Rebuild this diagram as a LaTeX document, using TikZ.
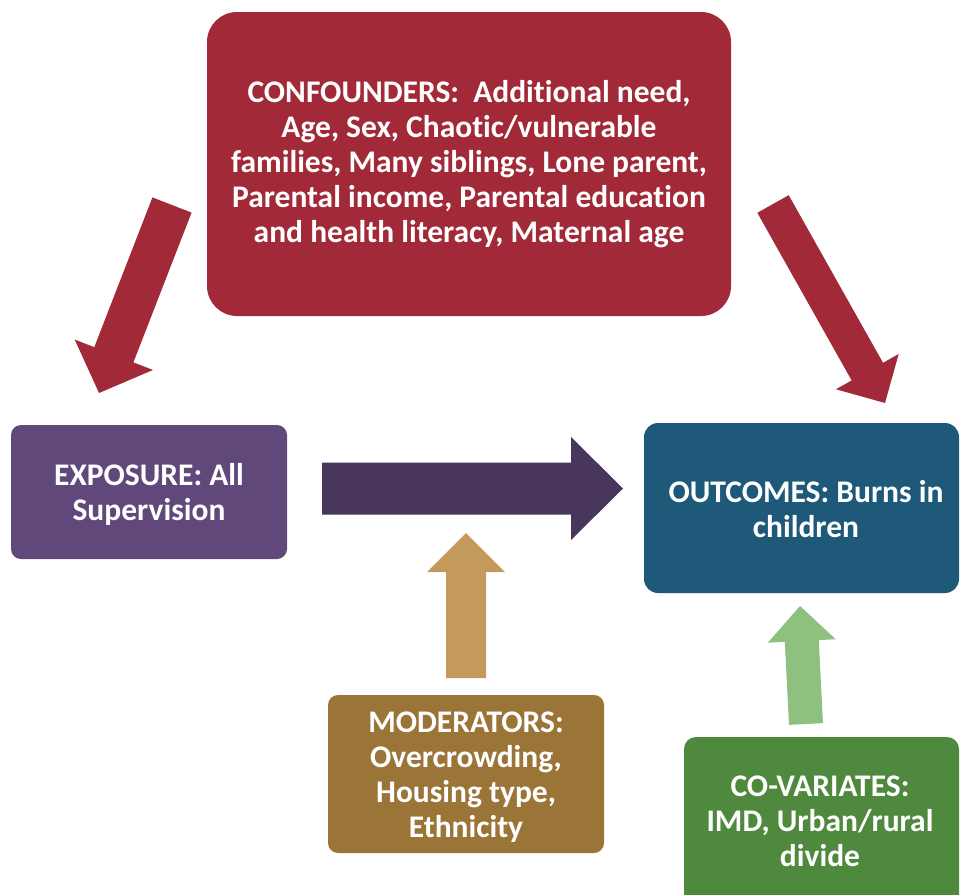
\documentclass[tikz,border=0pt]{standalone}
\usepackage{fontspec}
\setmainfont{Carlito}[Ligatures=NoCommon]
\usetikzlibrary{calc}
\definecolor{conf}{RGB}{161,41,56}
\definecolor{expo}{RGB}{96,73,122}
\definecolor{outc}{RGB}{31,89,122}
\definecolor{mode}{RGB}{155,116,56}
\definecolor{cova}{RGB}{79,137,62}
\definecolor{parrow}{RGB}{72,54,92}
\definecolor{barrow}{RGB}{195,154,92}
\definecolor{garrow}{RGB}{142,192,128}
\tikzset{
  boxtext/.style={text=white, align=center,
    font=\bfseries\fontsize{31.5}{35}\selectfont, inner sep=0pt},
  blockarrow/.style={fill=#1, draw=none}
}
% #1 colour, #2 tail, #3 tip, #4 shaft half width, #5 head half width, #6 head length
\newcommand{\fatarrow}[6]{%
  \fill[blockarrow=#1] let \p1=(#2), \p2=(#3),
    \n1={atan2(\y2-\y1,\x2-\x1)}, \n2={veclen(\x2-\x1,\y2-\y1)} in
    [shift={(\p1)}, rotate=\n1]
    (0pt,-#4pt) -- (\n2-#6pt,-#4pt) -- (\n2-#6pt,-#5pt) -- (\n2,0pt)
    -- (\n2-#6pt,#5pt) -- (\n2-#6pt,#4pt) -- (0pt,#4pt) -- cycle;}
\begin{document}
\begin{tikzpicture}[x=1pt,y=-1pt]
\useasboundingbox (0,0) rectangle (960,894);
\clip (0,0) rectangle (960,894);
% boxes
\fill[conf, rounded corners=30pt] (207,12) rectangle (731,316);
\node[boxtext] (confounders) at (469,164.5)
  {CONFOUNDERS:\ \ Additional need,\\ Age, Sex, Chaotic/vulnerable\\ families, Many siblings, Lone parent,\\ Parental income, Parental education\\ and health literacy, Maternal age};
\fill[expo, rounded corners=10pt] (11,425) rectangle (287,559);
\node[boxtext] (exposure) at (149,494) {EXPOSURE: All\\ Supervision};
\fill[outc, rounded corners=14pt] (644,423) rectangle (959,593);
\node[boxtext] (outcomes) at (806,509) {OUTCOMES: Burns in\\ children};
\fill[mode, rounded corners=10pt] (328,695) rectangle (604,853);
\node[boxtext] (moderators) at (466,777) {MODERATORS:\\ Overcrowding,\\ Housing type,\\ Ethnicity};
\fill[cova, rounded corners=12pt] (684,737) rectangle (959,910);
\node[boxtext] (covariates) at (820,821) {CO-VARIATES:\\ IMD, Urban/rural\\ divide};
% arrow anchor coordinates
\coordinate (lt) at (172,205);
\coordinate (lh) at (99,393);
\coordinate (rt) at (773,204);
\coordinate (rh) at (885,403);
\coordinate (pt) at (322,488.5);
\coordinate (ph) at (623,488.5);
\coordinate (bt) at (466,678);
\coordinate (bh) at (466,533);
\coordinate (gt) at (806,724);
\coordinate (gh) at (800,606);
% arrows
\fatarrow{conf}{lt}{lh}{21}{42}{41}
\fatarrow{conf}{rt}{rh}{18}{36}{36}
\fatarrow{parrow}{pt}{ph}{26}{51.5}{52}
\fatarrow{barrow}{bt}{bh}{20}{39}{39}
\fatarrow{garrow}{gt}{gh}{17}{34}{35}
\end{tikzpicture}
\end{document}
